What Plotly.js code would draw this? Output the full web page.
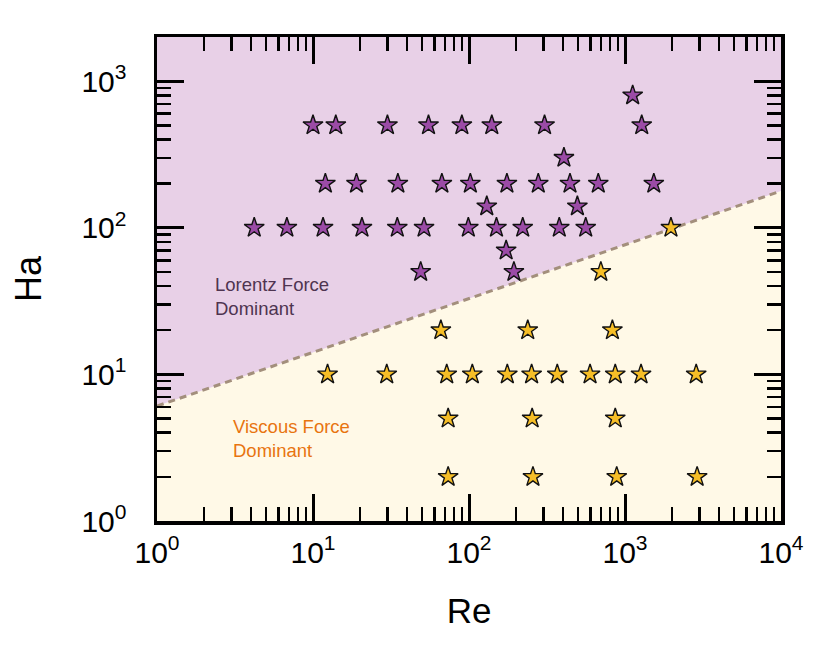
<!DOCTYPE html>
<html>
<head>
<meta charset="utf-8">
<script src="https://cdn.plot.ly/plotly-3.0.1.min.js"></script>
<style>html,body{margin:0;padding:0;background:#fff;}#chart{width:831px;height:648px;}</style>
</head>
<body>
<div id="chart"></div>
<script>
// Lorentz-force-dominant cases (purple)
const lorentzRe = [10, 14, 30, 55, 90, 140, 305, 1120, 1280,
                   12, 19, 35, 67, 102, 175, 278, 444, 674, 1530,
                   4.2, 6.8, 11.6, 20.6, 34.7, 51.5, 99, 150, 221, 379, 560,
                   130, 406, 495, 173, 194, 49];
const lorentzHa = [500, 500, 500, 500, 500, 500, 500, 800, 500,
                   200, 200, 200, 200, 200, 200, 200, 200, 200, 200,
                   100, 100, 100, 100, 100, 100, 100, 100, 100, 100, 100,
                   140, 300, 140, 70, 50, 50];
// Viscous-force-dominant cases (yellow)
const viscousRe = [1970, 700,
                   66, 238, 830,
                   12.4, 29.7, 72, 105, 176, 252, 368, 597, 866, 1267, 2860,
                   73.5, 254, 866,
                   73.5, 257, 885, 2900];
const viscousHa = [100, 50,
                   20, 20, 20,
                   10, 10, 10, 10, 10, 10, 10, 10, 10, 10, 10,
                   5, 5, 5,
                   2, 2, 2, 2];
// Boundary line Ha = f(Re)
const boundaryRe = [1, 10000];
const boundaryHa = [6.08, 178];
// Axis limits and tick labels
const reRange = [1, 10000];
const haRange = [1, 2000];
const reTicks = [1, 10, 100, 1000, 10000];
const reTickText = ['10<sup>0</sup>', '10<sup>1</sup>', '10<sup>2</sup>', '10<sup>3</sup>', '10<sup>4</sup>'];
const haTicks = [1, 10, 100, 1000];
const haTickText = ['10<sup>0</sup>', '10<sup>1</sup>', '10<sup>2</sup>', '10<sup>3</sup>'];

function minorVals(lo, hi) {
  const v = [];
  for (let d = lo; d < hi; d *= 10) for (let k = 2; k <= 9; k++) if (d * k <= hi) v.push(d * k);
  return v;
}

const traces = [
  { // viscous region
    x: [reRange[0], reRange[1], boundaryRe[1], boundaryRe[0]],
    y: [haRange[0], haRange[0], boundaryHa[1], boundaryHa[0]],
    mode: 'lines', fill: 'toself', fillcolor: '#FFF9E7',
    line: {width: 0}, hoverinfo: 'skip', showlegend: false
  },
  { // lorentz region
    x: [boundaryRe[0], boundaryRe[1], reRange[1], reRange[0]],
    y: [boundaryHa[0], boundaryHa[1], haRange[1], haRange[1]],
    mode: 'lines', fill: 'toself', fillcolor: '#E8D0E7',
    line: {width: 0}, hoverinfo: 'skip', showlegend: false
  },
  { // boundary
    x: boundaryRe, y: boundaryHa, mode: 'lines',
    line: {color: '#A38F7C', width: 3, dash: '7px,5px'},
    showlegend: false
  },
  {
    x: lorentzRe, y: lorentzHa, mode: 'markers',
    marker: {symbol: 'star', size: 15, color: '#9B4BA6', line: {color: '#111', width: 1.4}},
    showlegend: false
  },
  {
    x: viscousRe, y: viscousHa, mode: 'markers',
    marker: {symbol: 'star', size: 15, color: '#F6BE27', line: {color: '#111', width: 1.4}},
    showlegend: false
  }
];

const tickFont = {family: '"Liberation Sans", Arial, sans-serif', size: 30, color: '#000'};
const axisCommon = {
  type: 'log', showline: true, linecolor: '#000', linewidth: 3.5, mirror: 'ticks',
  ticks: 'inside', ticklen: 27, tickwidth: 3, tickcolor: '#000',
  showgrid: false, zeroline: false, tickfont: tickFont,
  minor: {ticks: 'inside', ticklen: 14, tickwidth: 2.5, tickcolor: '#000', showgrid: false}
};

const layout = {
  width: 831, height: 648,
  margin: {l: 157, r: 50, t: 37, b: 127},
  paper_bgcolor: '#fff', plot_bgcolor: '#fff',
  showlegend: false,
  xaxis: Object.assign({}, axisCommon, {
    range: [Math.log10(reRange[0]), Math.log10(reRange[1])],
    tickmode: 'array', tickvals: reTicks, ticktext: reTickText,
    ticklabelstandoff: 2,
    minor: Object.assign({}, axisCommon.minor, {tickvals: minorVals(reRange[0], reRange[1])}),
    title: {text: 'Re', font: {family: '"Liberation Sans", Arial, sans-serif', size: 35, color: '#000'}, standoff: 32}
  }),
  yaxis: Object.assign({}, axisCommon, {
    range: [Math.log10(haRange[0]), Math.log10(haRange[1])],
    tickmode: 'array', tickvals: haTicks, ticktext: haTickText,
    ticklabelstandoff: 21,
    minor: Object.assign({}, axisCommon.minor, {tickvals: minorVals(haRange[0], haRange[1])}),
    title: {text: 'Ha', font: {family: '"Liberation Sans", Arial, sans-serif', size: 36, color: '#000'}, standoff: 30}
  }),
  annotations: [
    {xref: 'paper', yref: 'paper', x: 0.089, y: 0.463, xanchor: 'left', yanchor: 'middle', align: 'left',
     showarrow: false, text: 'Lorentz Force<br>Dominant',
     font: {family: '"Liberation Sans", Arial, sans-serif', size: 18.5, color: '#4E3450'}},
    {xref: 'paper', yref: 'paper', x: 0.118, y: 0.171, xanchor: 'left', yanchor: 'middle', align: 'left',
     showarrow: false, text: 'Viscous Force<br>Dominant',
     font: {family: '"Liberation Sans", Arial, sans-serif', size: 18.5, color: '#E8740F'}}
  ]
};

Plotly.newPlot('chart', traces, layout, {staticPlot: true, displayModeBar: false});
</script>
</body>
</html>
